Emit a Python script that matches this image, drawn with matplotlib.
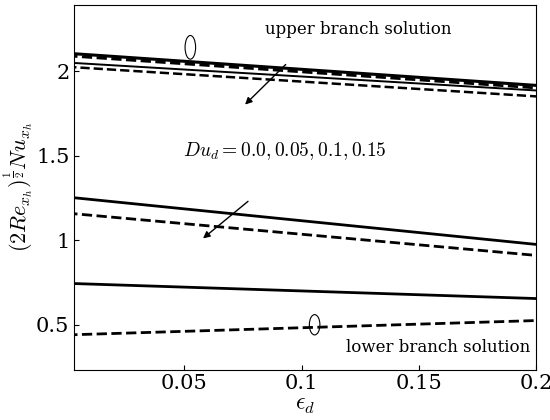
import numpy as np
import matplotlib.pyplot as plt
from matplotlib.patches import Ellipse

plt.rcParams['mathtext.fontset'] = 'cm'
plt.rcParams['font.family'] = 'serif'
plt.rcParams['font.serif'] = ['DejaVu Serif']

eps = [0.0, 0.2]
# upper branch (start, end)
up_solid1 = [2.105, 1.915]
up_dash1 = [2.09, 1.90]
up_solid2 = [2.05, 1.885]
up_dash2 = [2.025, 1.85]
# lower branch
lo_solid1 = [1.255, 0.975]
lo_dash1 = [1.16, 0.91]
lo_solid2 = [0.745, 0.655]
lo_dash2 = [0.44, 0.525]

fig = plt.figure(figsize=(5.5, 4.2), dpi=100)
ax = fig.add_axes([0.135, 0.12, 0.84, 0.868])
ax.plot(eps, up_solid1, 'k-', lw=2.2)
ax.plot(eps, up_dash1, 'k--', lw=2.0)
ax.plot(eps, up_solid2, 'k-', lw=1.4)
ax.plot(eps, up_dash2, 'k--', lw=1.8)
ax.plot(eps, lo_solid1, 'k-', lw=2.0)
ax.plot(eps, lo_dash1, 'k--', lw=2.0)
ax.plot(eps, lo_solid2, 'k-', lw=2.0)
ax.plot(eps, lo_dash2, 'k--', lw=2.0)

ax.set_xlim(0.003, 0.2)
ax.set_ylim(0.235, 2.39)
ax.set_xticks([0.05, 0.1, 0.15, 0.2])
ax.set_xticklabels(['0.05', '0.1', '0.15', '0.2'])
ax.set_yticks([0.5, 1, 1.5, 2])
ax.set_yticklabels(['0.5', '1', '1.5', '2'])
ax.tick_params(labelsize=15, direction='in')
ax.set_xlabel(r'$\epsilon_d$', fontsize=17, labelpad=0)
ax.set_ylabel(r'$(2Re_{x_h})^{\frac{1}{2}}Nu_{x_h}$', fontsize=16, labelpad=0)

ax.text(0.124, 2.22, 'upper branch solution', fontsize=12, ha='center')
ax.text(0.158, 0.34, 'lower branch solution', fontsize=12, ha='center')
ax.text(0.093, 1.5, r'$Du_d = 0.0, 0.05, 0.1, 0.15$', fontsize=14, ha='center')
ax.annotate('', xy=(0.075, 1.79), xytext=(0.094, 2.05),
            arrowprops=dict(arrowstyle='-|>', color='k', lw=1))
ax.annotate('', xy=(0.057, 1.0), xytext=(0.078, 1.24),
            arrowprops=dict(arrowstyle='-|>', color='k', lw=1))
ax.add_patch(Ellipse((0.0525, 2.14), 0.0045, 0.14, fill=False, lw=0.8))
ax.add_patch(Ellipse((0.1055, 0.5), 0.0045, 0.12, fill=False, lw=0.8))

fig.savefig('out.png')
